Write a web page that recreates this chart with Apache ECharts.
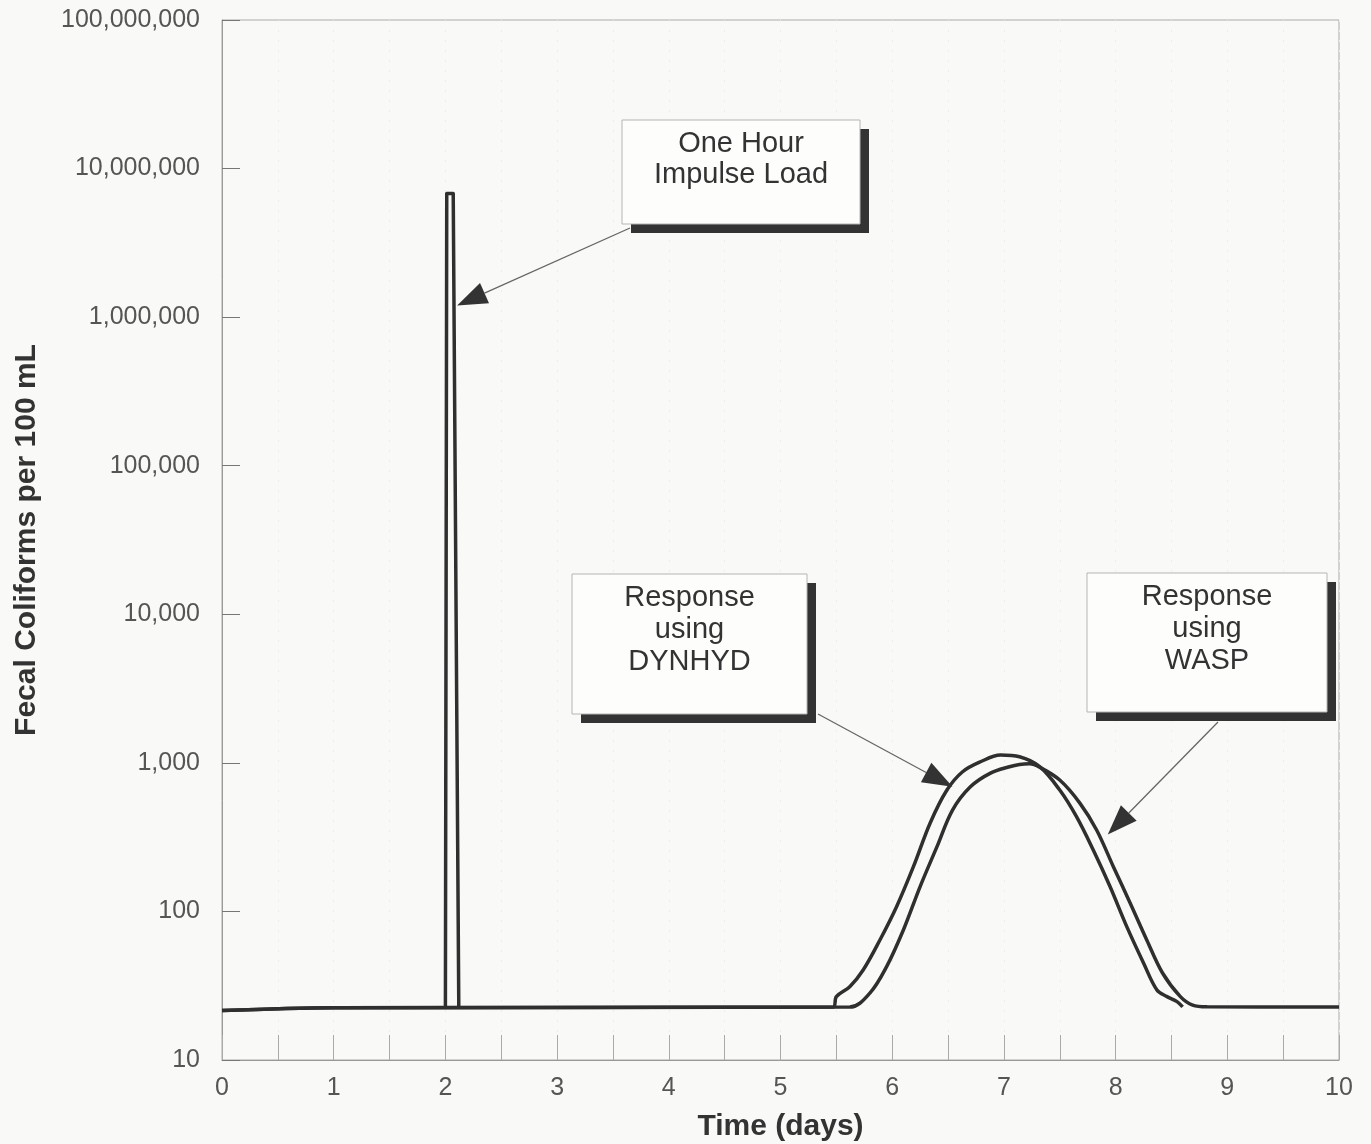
<!DOCTYPE html>
<html>
<head>
<meta charset="utf-8">
<script src="https://cdn.jsdelivr.net/npm/echarts@6/dist/echarts.min.js"></script>
<style>
  html, body { margin: 0; padding: 0; background: #f9f9f7; }
  #main { width: 1371px; height: 1144px; }
</style>
</head>
<body>
<div id="main"></div>
<script>
  // y tick values (log axis)
  var yTicks = [10, 100, 1000, 10000, 100000, 1000000, 10000000, 100000000];

  // one hour impulse load (the narrow spike)
  var impulseX = [2.0, 2.012, 2.07, 2.12];
  var impulseY = [22.5, 6800000, 6800000, 22.5];

  // response using DYNHYD
  var dynhydX = [0, 1, 5.47, 5.50, 5.62, 5.74, 5.89, 6.04, 6.19, 6.34, 6.49, 6.63, 6.79, 6.97, 7.14, 7.32, 7.50, 7.65, 7.80, 7.95, 8.10, 8.25, 8.37, 8.46, 8.55, 8.60];
  var dynhydY = [21.5, 22.5, 22.7, 26.7, 31.1, 40.3, 64.2, 108, 200, 394, 656, 871, 1017, 1128, 1099, 942, 656, 434, 259, 147, 79, 45, 29.6, 26.7, 24.7, 22.8];

  // response using WASP
  var waspX = [0, 1, 5.62, 5.80, 5.95, 6.10, 6.25, 6.40, 6.54, 6.70, 6.88, 7.05, 7.14, 7.23, 7.32, 7.50, 7.68, 7.83, 7.98, 8.13, 8.28, 8.42, 8.58, 8.69, 8.82, 10];
  var waspY = [21.5, 22.5, 22.7, 28.2, 42.5, 75, 147, 272, 481, 690, 853, 942, 975, 985, 935, 766, 536, 353, 200, 114, 64, 38.5, 26.7, 23.4, 22.8, 22.7];

  function pairs(xs, ys) {
    return xs.map(function (x, i) { return [x, ys[i]]; });
  }
  function commas(v) {
    return String(Math.round(v)).replace(/\B(?=(\d{3})+(?!\d))/g, ',');
  }

  var lineColor = '#2f2f2f';
  var myChart = echarts.init(document.getElementById('main'));

  myChart.setOption({
    backgroundColor: '#f9f9f7',
    animation: false,
    grid: {
      left: 222, right: 32, top: 20, bottom: 84,
      outerBoundsMode: 'none',
      containLabel: false,
      show: true, borderColor: '#aaa', borderWidth: 1
    },
    xAxis: {
      type: 'value',
      min: 0, max: 10, interval: 0.5,
      name: 'Time (days)',
      nameLocation: 'middle',
      nameGap: 52,
      nameTextStyle: { fontFamily: 'Liberation Sans', fontWeight: 'bold', fontSize: 30, color: '#333' },
      axisLine: { lineStyle: { color: '#999', width: 1 } },
      axisTick: { inside: true, length: 25, lineStyle: { color: '#aaa', width: 1 } },
      axisLabel: {
        margin: 16,
        fontFamily: 'Liberation Sans', fontSize: 25, color: '#555',
        formatter: function (v) { return Number.isInteger(v) ? String(v) : ''; }
      },
      splitLine: { show: true, lineStyle: { color: '#ececec', type: [2, 8], width: 1 } }
    },
    yAxis: {
      type: 'log',
      logBase: 10,
      min: 10, max: 100000000,
      name: 'Fecal Coliforms per 100 mL',
      nameLocation: 'middle',
      nameGap: 180,
      nameTextStyle: { fontFamily: 'Liberation Sans', fontWeight: 'bold', fontSize: 30, color: '#333' },
      axisLine: { show: true, lineStyle: { color: '#999', width: 1 } },
      axisTick: { show: true, inside: true, length: 18, lineStyle: { color: '#777', width: 1 } },
      axisLabel: {
        margin: 22,
        fontFamily: 'Liberation Sans', fontSize: 25, color: '#555',
        formatter: function (v) { return yTicks.indexOf(v) >= 0 ? commas(v) : ''; }
      },
      splitLine: { show: false }
    },
    series: [
      {
        name: 'One Hour Impulse Load',
        type: 'line',
        data: pairs(impulseX, impulseY),
        showSymbol: false,
        lineStyle: { color: lineColor, width: 3.5, join: 'round' }
      },
      {
        name: 'WASP',
        type: 'line',
        data: pairs(waspX, waspY),
        smooth: 0.35,
        showSymbol: false,
        lineStyle: { color: lineColor, width: 3.5 }
      },
      {
        name: 'DYNHYD',
        type: 'line',
        data: pairs(dynhydX, dynhydY),
        smooth: 0.35,
        showSymbol: false,
        lineStyle: { color: lineColor, width: 3.5 }
      }
    ]
  });

  // annotation boxes with drop shadow, arrows pointing at the curves
  function box(x, y, w, h, lines, lineH) {
    var out = [];
    out.push({ type: 'rect', shape: { x: x + 9, y: y + 9, width: w, height: h }, style: { fill: '#333' }, z: 100 });
    out.push({ type: 'rect', shape: { x: x, y: y, width: w, height: h }, style: { fill: '#fdfdfc', stroke: '#b5b5b5', lineWidth: 1 }, z: 101 });
    lines.forEach(function (t, i) {
      out.push({
        type: 'text', z: 102,
        style: {
          x: x + w / 2, y: y + 24 + i * lineH, text: t,
          align: 'center', verticalAlign: 'middle',
          font: '29px "Liberation Sans"', fill: '#333'
        }
      });
    });
    return out;
  }

  function arrow(from, tipData) {
    var tip = myChart.convertToPixel({ gridIndex: 0 }, tipData);
    var dx = tip[0] - from[0], dy = tip[1] - from[1];
    var len = Math.sqrt(dx * dx + dy * dy);
    var ux = dx / len, uy = dy / len;
    var hl = 30, hw = 11;
    var bx = tip[0] - ux * hl, by = tip[1] - uy * hl;
    return [
      { type: 'line', z: 99, shape: { x1: from[0], y1: from[1], x2: bx, y2: by }, style: { stroke: '#666', lineWidth: 1.3 } },
      {
        type: 'polygon', z: 99,
        shape: { points: [tip, [bx - uy * hw, by + ux * hw], [bx + uy * hw, by - ux * hw]] },
        style: { fill: '#333' }
      }
    ];
  }

  var elements = []
    .concat(box(622, 120, 238, 104, ['One Hour', 'Impulse Load'], 31))
    .concat(box(572, 574, 235, 140, ['Response', 'using', 'DYNHYD'], 32))
    .concat(box(1087, 573, 240, 139, ['Response', 'using', 'WASP'], 32))
    .concat(arrow([630, 228], [2.105, 1200000]))
    .concat(arrow([818, 714], [6.54, 690]))
    .concat(arrow([1218, 722], [7.93, 330]));

  myChart.setOption({ graphic: { elements: elements } });
</script>
</body>
</html>
